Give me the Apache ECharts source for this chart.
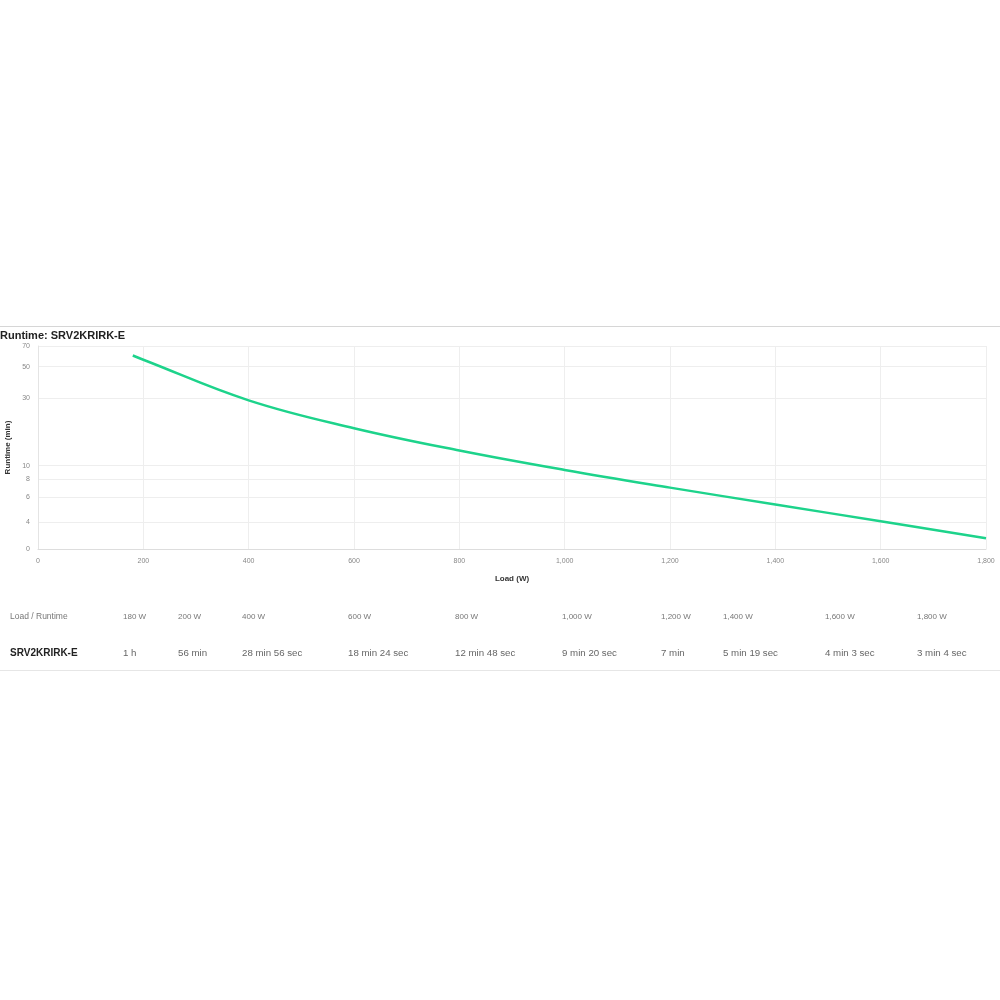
<!DOCTYPE html>
<html>
<head>
<meta charset="utf-8">
<script src="https://cdn.jsdelivr.net/npm/echarts@6/dist/echarts.min.js"></script>
<style>
html,body{margin:0;padding:0;background:#fff;}
#chart{width:1000px;height:1000px;}
</style>
</head>
<body>
<div id="chart"></div>
<script>
var titleText = 'Runtime: SRV2KRIRK-E';
var modelName = 'SRV2KRIRK-E';
var loadsW = [180, 200, 400, 600, 800, 1000, 1200, 1400, 1600, 1800];
var runtimeMin = [60, 56, 28.93, 18.4, 12.8, 9.33, 7, 5.32, 4.05, 3.07];
var loadLabels = ['180 W', '200 W', '400 W', '600 W', '800 W', '1,000 W', '1,200 W', '1,400 W', '1,600 W', '1,800 W'];
var runtimeLabels = ['1 h', '56 min', '28 min 56 sec', '18 min 24 sec', '12 min 48 sec', '9 min 20 sec', '7 min', '5 min 19 sec', '4 min 3 sec', '3 min 4 sec'];
var yTickValues = [2.58, 4, 6, 8, 10, 30, 50, 70];
var xMax = 1800, xInterval = 200;

var FONT = '"Liberation Sans", Arial, sans-serif';
var colX = [123, 178, 242, 348, 455, 562, 661, 723, 825, 917];

var graphics = [
  {type:'line', shape:{x1:0,y1:326.5,x2:1000,y2:326.5}, style:{stroke:'#d6d6d6', lineWidth:1}},
  {type:'text', left:0, top:330, style:{text:titleText, font:'bold 11px ' + FONT, fill:'#222'}},
  {type:'text', x:10, y:617, style:{text:'Load / Runtime', font:'8.5px ' + FONT, fill:'#777', verticalAlign:'middle'}},
  {type:'text', x:10, y:653, style:{text:modelName, font:'bold 10px ' + FONT, fill:'#222', verticalAlign:'middle'}},
  {type:'line', shape:{x1:0,y1:670.5,x2:1000,y2:670.5}, style:{stroke:'#e6e6e6', lineWidth:1}}
];
loadLabels.forEach(function(t, i){
  graphics.push({type:'text', x:colX[i], y:617, style:{text:t, font:'8px ' + FONT, fill:'#777', verticalAlign:'middle'}});
});
runtimeLabels.forEach(function(t, i){
  graphics.push({type:'text', x:colX[i], y:653, style:{text:t, font:'9.7px ' + FONT, fill:'#666', verticalAlign:'middle'}});
});

var chart = echarts.init(document.getElementById('chart'), null, {renderer:'canvas'});
chart.setOption({
  animation:false,
  backgroundColor:'#fff',
  grid:{left:38, right:14, top:346, bottom:451, containLabel:false, outerBoundsMode:'none'},
  xAxis:{
    type:'value', min:0, max:xMax, interval:xInterval,
    name:'Load (W)', nameLocation:'middle', nameGap:26,
    nameTextStyle:{fontFamily:FONT, fontSize:8, fontWeight:'bold', color:'#333'},
    axisLine:{show:true, lineStyle:{color:'#dddddd'}},
    axisTick:{show:false},
    axisLabel:{fontFamily:FONT, fontSize:7, color:'#888', margin:9,
      formatter:function(v){return v.toLocaleString('en-US');}},
    splitLine:{show:true, lineStyle:{color:'#eeeeee'}}
  },
  yAxis:{
    type:'log', logBase:10, min:yTickValues[0], max:yTickValues[yTickValues.length-1],
    name:'Runtime (min)', nameLocation:'middle', nameGap:26, nameRotate:90,
    nameTextStyle:{fontFamily:FONT, fontSize:8, fontWeight:'bold', color:'#333'},
    axisLine:{show:true, lineStyle:{color:'#e4e4e4'}},
    axisTick:{show:false, customValues:yTickValues},
    axisLabel:{fontFamily:FONT, fontSize:7, color:'#888', margin:8, customValues:yTickValues,
      formatter:function(v){return v < 3 ? '0' : String(Math.round(v));}},
    splitLine:{show:true, lineStyle:{color:'#eeeeee'}}
  },
  series:[{
    type:'line', smooth:0.4, showSymbol:false,
    data:loadsW.map(function(x,i){return [x, runtimeMin[i]];}),
    lineStyle:{color:'#1dd38b', width:2.5},
    itemStyle:{color:'#1dd38b'}
  }],
  graphic:graphics
});
</script>
</body>
</html>
